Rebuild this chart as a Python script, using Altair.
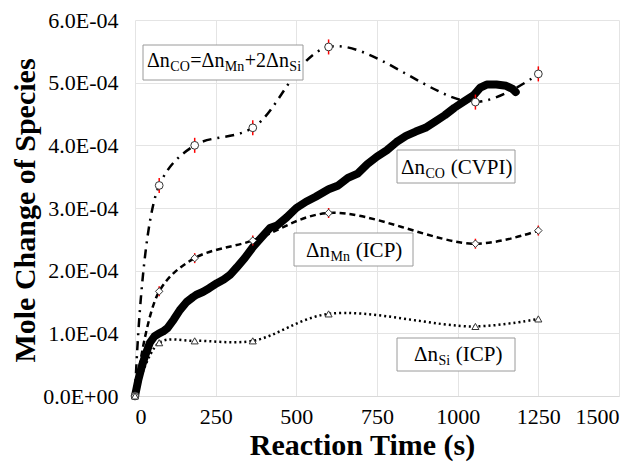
import altair as alt
import pandas as pd

# ---- data ----
t_icp = [0, 75, 185, 365, 600, 1055, 1250]
co_calc = [0, 3.36e-4, 4.00e-4, 4.28e-4, 5.57e-4, 4.69e-4, 5.14e-4]
mn_icp = [0, 1.67e-4, 2.20e-4, 2.48e-4, 2.92e-4, 2.43e-4, 2.64e-4]
si_icp = [0, 0.85e-4, 0.88e-4, 0.88e-4, 1.31e-4, 1.11e-4, 1.23e-4]
co_err = [0, 1.2e-5, 1.2e-5, 1.2e-5, 1.2e-5, 1.2e-5, 1.2e-5]
mn_err = [0, 0.8e-5, 0.8e-5, 0.8e-5, 0.8e-5, 0.8e-5, 0.8e-5]

t_cvpi = [0, 10, 20, 30, 46, 60, 75, 87, 100, 120, 139, 160, 180, 192, 210, 230,
          254, 275, 294, 315, 340, 366, 390, 418, 440, 470, 500, 530, 560, 600,
          630, 660, 690, 720, 750, 780, 810, 840, 870, 900, 930, 960, 990, 1020,
          1050, 1070, 1090, 1120, 1150, 1170, 1180]
co_cvpi = [0, 0.25, 0.45, 0.62, 0.85, 0.95, 1.00, 1.03, 1.08, 1.22, 1.37, 1.50,
           1.58, 1.62, 1.66, 1.72, 1.80, 1.86, 1.93, 2.05, 2.20, 2.38, 2.52, 2.68,
           2.72, 2.85, 3.00, 3.10, 3.18, 3.30, 3.36, 3.48, 3.55, 3.70, 3.82, 3.92,
           4.05, 4.15, 4.22, 4.28, 4.38, 4.48, 4.60, 4.70, 4.80, 4.92, 4.97, 4.97,
           4.95, 4.90, 4.85]
co_cvpi = [v * 1e-4 for v in co_cvpi]

icp = pd.DataFrame({
    "t": t_icp, "co": co_calc, "mn": mn_icp, "si": si_icp,
    "co_lo": [a - b for a, b in zip(co_calc, co_err)],
    "co_hi": [a + b for a, b in zip(co_calc, co_err)],
    "mn_lo": [a - b for a, b in zip(mn_icp, mn_err)],
    "mn_hi": [a + b for a, b in zip(mn_icp, mn_err)],
})
cvpi = pd.DataFrame({"t": t_cvpi, "v": co_cvpi})

# ---- layout ----
PL, PT, W, H = 135, 20, 484, 376
FONT = "Liberation Serif"

xscale = alt.Scale(domain=[0, 1500], nice=False, zero=True)
yscale = alt.Scale(domain=[0, 6e-4], nice=False, zero=True)
xaxis = alt.Axis(values=[0, 250, 500, 750, 1000, 1250, 1500], format="d", grid=True,
                 gridColor="#e4e4e4", domainColor="#d9d9d9", ticks=False,
                 labelFont=FONT, labelFontSize=22, labelColor="black", labelPadding=10,
                 title="Reaction Time (s)", titleFont=FONT, titleFontSize=30,
                 titleFontWeight="bold", titleColor="black", titleX=227, titleY=49,
                 titleBaseline="middle")
yaxis = alt.Axis(values=[0, 1e-4, 2e-4, 3e-4, 4e-4, 5e-4, 6e-4], grid=True,
                 gridColor="#e4e4e4", domain=False, ticks=False,
                 labelExpr="datum.value == 0 ? '0.0E+00' : format(datum.value / 1e-4, '.1f') + 'E-04'",
                 labelFont=FONT, labelFontSize=22, labelColor="black", labelPadding=17,
                 title="Mole Change of Species", titleFont=FONT, titleFontSize=30,
                 titleFontWeight="bold", titleColor="black", titleAngle=270,
                 titleX=-110, titleY=190, titleBaseline="middle")


def X(f):
    return alt.X(f + ":Q", scale=xscale, axis=xaxis)


def Y(f):
    return alt.Y(f + ":Q", scale=yscale, axis=yaxis)


base = alt.Chart(icp)
curve_co = base.mark_line(interpolate="catmull-rom", color="black", strokeWidth=2.5,
                          strokeDash=[9, 6, 2, 6]).encode(x=X("t"), y=Y("co"))
curve_mn = base.mark_line(interpolate="catmull-rom", color="black", strokeWidth=2.5,
                          strokeDash=[6, 4]).encode(x=X("t"), y=Y("mn"))
curve_si = base.mark_line(interpolate="catmull-rom", color="black", strokeWidth=2.5,
                          strokeDash=[2, 3]).encode(x=X("t"), y=Y("si"))

thick = alt.Chart(cvpi).mark_line(color="black", strokeWidth=8, strokeCap="round",
                                  strokeJoin="round").encode(x=X("t"), y=Y("v"))

err_co = base.mark_rule(color="red", strokeWidth=1.5).encode(x=X("t"), y=Y("co_lo"), y2="co_hi")
err_mn = base.mark_rule(color="red", strokeWidth=1.5).encode(x=X("t"), y=Y("mn_lo"), y2="mn_hi")

pt_style = dict(filled=True, fill="white", stroke="#333333", strokeWidth=1, opacity=1)
pts_co = base.mark_point(shape="circle", size=60, **pt_style).encode(x=X("t"), y=Y("co"))
pts_mn = base.mark_point(shape="diamond", size=55, **pt_style).encode(x=X("t"), y=Y("mn"))
pts_si = base.mark_point(shape="triangle-up", size=50, **pt_style).encode(x=X("t"), y=Y("si"))

# ---- annotation boxes (page pixel coordinates) ----
EM = {"Δ": .64, "n": .5, "C": .667, "O": .722, "=": .564, "M": .889, "+": .564,
      "2": .5, "S": .556, "i": .278, "(": .333, "V": .722, "P": .556, "I": .333,
      ")": .333, " ": .25}


def width(s, fs):
    return sum(EM[c] for c in s) * fs


boxes = [(143, 45, 303, 80), (397, 150, 515, 183), (294, 233, 413, 266), (397, 338, 515, 371)]
# (start x, main baseline, main size, sub size, [(text, is_sub), ...])
labels = [
    (147, 67, 20, 14, [("Δn", 0), ("CO", 1), ("=Δn", 0), ("Mn", 1), ("+2Δn", 0), ("Si", 1)]),
    (401, 174, 21, 14, [("Δn", 0), ("CO", 1), (" (CVPI)", 0)]),
    (306, 257, 21, 14, [("Δn", 0), ("Mn", 1), (" (ICP)", 0)]),
    (414, 361, 21, 14, [("Δn", 0), ("Si", 1), (" (ICP)", 0)]),
]
one = pd.DataFrame({"a": [0]})
ann = []
for x0, y0, x1, y1 in boxes:
    ann.append(alt.Chart(one).mark_rect(fill="white", stroke="#9a9a9a", strokeWidth=1).encode(
        x=alt.value(x0 - PL), x2=alt.value(x1 - PL), y=alt.value(y0 - PT), y2=alt.value(y1 - PT)))
for sx, by, fm, fsub, parts in labels:
    cx = sx
    for s, sub in parts:
        fs = fsub if sub else fm
        py = by + 4 if sub else by
        lead = len(s) - len(s.lstrip(" "))
        cx += width(" " * lead, fs)
        t = s.strip()
        ann.append(alt.Chart(one).mark_text(font=FONT, fontSize=fs, color="black", align="left",
                                            baseline="alphabetic").encode(
            x=alt.value(cx - PL), y=alt.value(py - PT), text=alt.value(t)))
        cx += width(t, fs) + 0.5

chart = alt.layer(curve_co, curve_mn, curve_si, thick, err_co, err_mn,
                  pts_co, pts_mn, pts_si, *ann).properties(
    width=W, height=H,
    autosize=alt.AutoSizeParams(type="none"),
    padding={"left": PL, "top": PT, "right": 642 - PL - W, "bottom": 463 - PT - H},
    background="white",
).configure_view(stroke=None)

chart.save("out.html", embed_options={"renderer": "svg", "actions": False})
